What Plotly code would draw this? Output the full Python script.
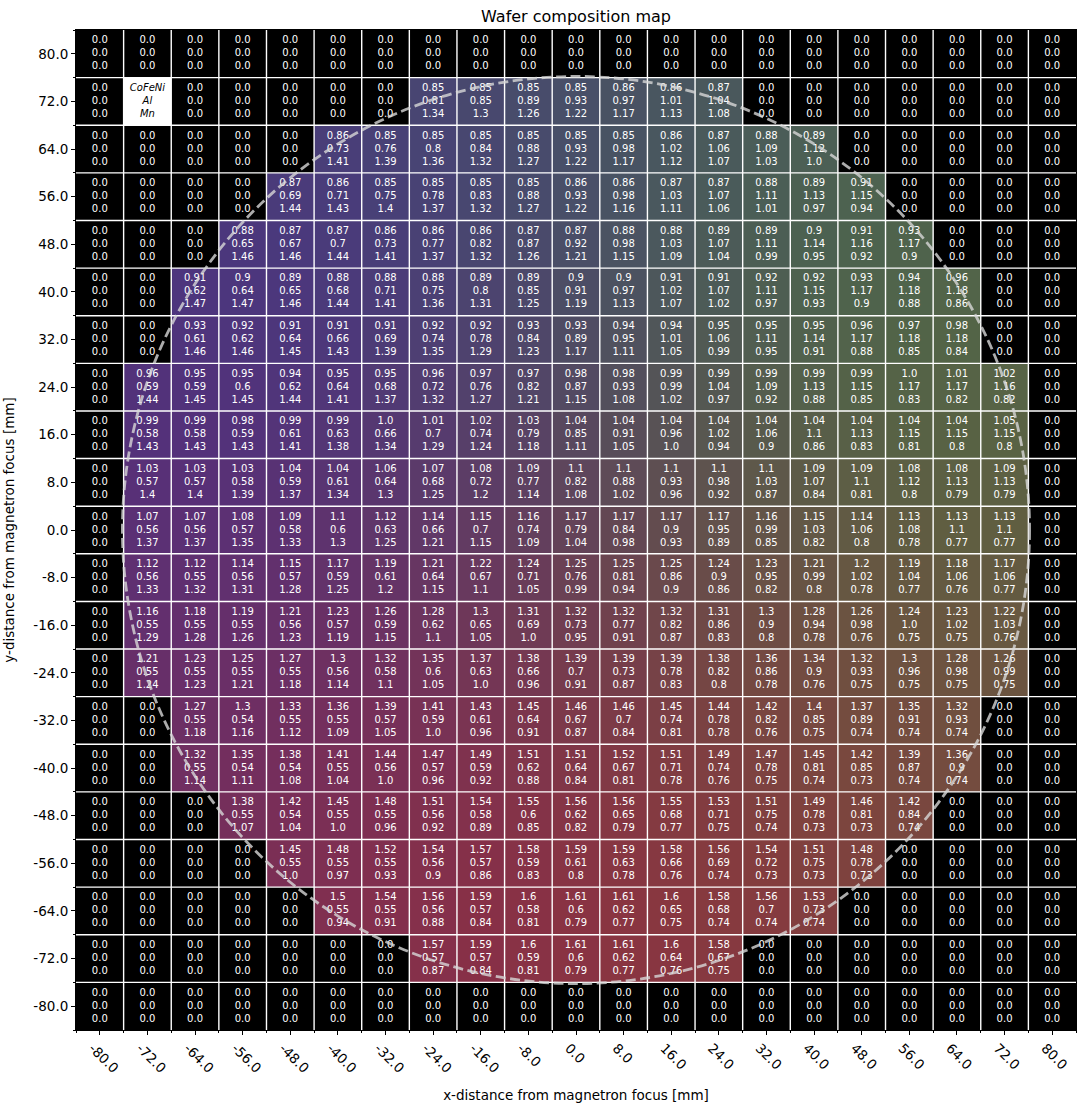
import plotly.graph_objects as go

# ---------------- data ----------------
X_MM = [-80.0, -72.0, -64.0, -56.0, -48.0, -40.0, -32.0, -24.0, -16.0, -8.0, 0.0,
        8.0, 16.0, 24.0, 32.0, 40.0, 48.0, 56.0, 64.0, 72.0, 80.0]
Y_MM = [80.0, 72.0, 64.0, 56.0, 48.0, 40.0, 32.0, 24.0, 16.0, 8.0, 0.0,
        -8.0, -16.0, -24.0, -32.0, -40.0, -48.0, -56.0, -64.0, -72.0, -80.0]

ELEMENTS = ["CoFeNi", "Al", "Mn"]
LEGEND_CELL = (-72.0, 72.0)
WAFER_RADIUS = 76.2

# rows ordered from y = 80 (top) to y = -80 (bottom), columns x = -80 ... 80
COFENI = [
    [0, 0, 0, 0, 0, 0, 0, 0, 0, 0, 0, 0, 0, 0, 0, 0, 0, 0, 0, 0, 0],
    [0, 0, 0, 0, 0, 0, 0, .85, .85, .85, .85, .86, .86, .87, 0, 0, 0, 0, 0, 0, 0],
    [0, 0, 0, 0, 0, .86, .85, .85, .85, .85, .85, .85, .86, .87, .88, .89, 0, 0, 0, 0, 0],
    [0, 0, 0, 0, .87, .86, .85, .85, .85, .85, .86, .86, .87, .87, .88, .89, .91, 0, 0, 0, 0],
    [0, 0, 0, .88, .87, .87, .86, .86, .86, .87, .87, .88, .88, .89, .89, .9, .91, .93, 0, 0, 0],
    [0, 0, .91, .9, .89, .88, .88, .88, .89, .89, .9, .9, .91, .91, .92, .92, .93, .94, .96, 0, 0],
    [0, 0, .93, .92, .91, .91, .91, .92, .92, .93, .93, .94, .94, .95, .95, .95, .96, .97, .98, 0, 0],
    [0, .96, .95, .95, .94, .95, .95, .96, .97, .97, .98, .98, .99, .99, .99, .99, .99, 1.0, 1.01, 1.02, 0],
    [0, .99, .99, .98, .99, .99, 1.0, 1.01, 1.02, 1.03, 1.04, 1.04, 1.04, 1.04, 1.04, 1.04, 1.04, 1.04, 1.04, 1.05, 0],
    [0, 1.03, 1.03, 1.03, 1.04, 1.04, 1.06, 1.07, 1.08, 1.09, 1.1, 1.1, 1.1, 1.1, 1.1, 1.09, 1.09, 1.08, 1.08, 1.09, 0],
    [0, 1.07, 1.07, 1.08, 1.09, 1.1, 1.12, 1.14, 1.15, 1.16, 1.17, 1.17, 1.17, 1.17, 1.16, 1.15, 1.14, 1.13, 1.13, 1.13, 0],
    [0, 1.12, 1.12, 1.14, 1.15, 1.17, 1.19, 1.21, 1.22, 1.24, 1.25, 1.25, 1.25, 1.24, 1.23, 1.21, 1.2, 1.19, 1.18, 1.17, 0],
    [0, 1.16, 1.18, 1.19, 1.21, 1.23, 1.26, 1.28, 1.3, 1.31, 1.32, 1.32, 1.32, 1.31, 1.3, 1.28, 1.26, 1.24, 1.23, 1.22, 0],
    [0, 1.21, 1.23, 1.25, 1.27, 1.3, 1.32, 1.35, 1.37, 1.38, 1.39, 1.39, 1.39, 1.38, 1.36, 1.34, 1.32, 1.3, 1.28, 1.26, 0],
    [0, 0, 1.27, 1.3, 1.33, 1.36, 1.39, 1.41, 1.43, 1.45, 1.46, 1.46, 1.45, 1.44, 1.42, 1.4, 1.37, 1.35, 1.32, 0, 0],
    [0, 0, 1.32, 1.35, 1.38, 1.41, 1.44, 1.47, 1.49, 1.51, 1.51, 1.52, 1.51, 1.49, 1.47, 1.45, 1.42, 1.39, 1.36, 0, 0],
    [0, 0, 0, 1.38, 1.42, 1.45, 1.48, 1.51, 1.54, 1.55, 1.56, 1.56, 1.55, 1.53, 1.51, 1.49, 1.46, 1.42, 0, 0, 0],
    [0, 0, 0, 0, 1.45, 1.48, 1.52, 1.54, 1.57, 1.58, 1.59, 1.59, 1.58, 1.56, 1.54, 1.51, 1.48, 0, 0, 0, 0],
    [0, 0, 0, 0, 0, 1.5, 1.54, 1.56, 1.59, 1.6, 1.61, 1.61, 1.6, 1.58, 1.56, 1.53, 0, 0, 0, 0, 0],
    [0, 0, 0, 0, 0, 0, 0, 1.57, 1.59, 1.6, 1.61, 1.61, 1.6, 1.58, 0, 0, 0, 0, 0, 0, 0],
    [0, 0, 0, 0, 0, 0, 0, 0, 0, 0, 0, 0, 0, 0, 0, 0, 0, 0, 0, 0, 0],
]

AL = [
    [0, 0, 0, 0, 0, 0, 0, 0, 0, 0, 0, 0, 0, 0, 0, 0, 0, 0, 0, 0, 0],
    [0, 0, 0, 0, 0, 0, 0, .81, .85, .89, .93, .97, 1.01, 1.04, 0, 0, 0, 0, 0, 0, 0],
    [0, 0, 0, 0, 0, .73, .76, .8, .84, .88, .93, .98, 1.02, 1.06, 1.09, 1.12, 0, 0, 0, 0, 0],
    [0, 0, 0, 0, .69, .71, .75, .78, .83, .88, .93, .98, 1.03, 1.07, 1.11, 1.13, 1.15, 0, 0, 0, 0],
    [0, 0, 0, .65, .67, .7, .73, .77, .82, .87, .92, .98, 1.03, 1.07, 1.11, 1.14, 1.16, 1.17, 0, 0, 0],
    [0, 0, .62, .64, .65, .68, .71, .75, .8, .85, .91, .97, 1.02, 1.07, 1.11, 1.15, 1.17, 1.18, 1.18, 0, 0],
    [0, 0, .61, .62, .64, .66, .69, .74, .78, .84, .89, .95, 1.01, 1.06, 1.11, 1.14, 1.17, 1.18, 1.18, 0, 0],
    [0, .59, .59, .6, .62, .64, .68, .72, .76, .82, .87, .93, .99, 1.04, 1.09, 1.13, 1.15, 1.17, 1.17, 1.16, 0],
    [0, .58, .58, .59, .61, .63, .66, .7, .74, .79, .85, .91, .96, 1.02, 1.06, 1.1, 1.13, 1.15, 1.15, 1.15, 0],
    [0, .57, .57, .58, .59, .61, .64, .68, .72, .77, .82, .88, .93, .98, 1.03, 1.07, 1.1, 1.12, 1.13, 1.13, 0],
    [0, .56, .56, .57, .58, .6, .63, .66, .7, .74, .79, .84, .9, .95, .99, 1.03, 1.06, 1.08, 1.1, 1.1, 0],
    [0, .56, .55, .56, .57, .59, .61, .64, .67, .71, .76, .81, .86, .9, .95, .99, 1.02, 1.04, 1.06, 1.06, 0],
    [0, .55, .55, .55, .56, .57, .59, .62, .65, .69, .73, .77, .82, .86, .9, .94, .98, 1.0, 1.02, 1.03, 0],
    [0, .55, .55, .55, .55, .56, .58, .6, .63, .66, .7, .73, .78, .82, .86, .9, .93, .96, .98, .99, 0],
    [0, 0, .55, .54, .55, .55, .57, .59, .61, .64, .67, .7, .74, .78, .82, .85, .89, .91, .93, 0, 0],
    [0, 0, .55, .54, .54, .55, .56, .57, .59, .62, .64, .67, .71, .74, .78, .81, .85, .87, .9, 0, 0],
    [0, 0, 0, .55, .54, .55, .55, .56, .58, .6, .62, .65, .68, .71, .75, .78, .81, .84, 0, 0, 0],
    [0, 0, 0, 0, .55, .55, .55, .56, .57, .59, .61, .63, .66, .69, .72, .75, .78, 0, 0, 0, 0],
    [0, 0, 0, 0, 0, .55, .55, .56, .57, .58, .6, .62, .65, .68, .7, .73, 0, 0, 0, 0, 0],
    [0, 0, 0, 0, 0, 0, 0, .57, .57, .59, .6, .62, .64, .67, 0, 0, 0, 0, 0, 0, 0],
    [0, 0, 0, 0, 0, 0, 0, 0, 0, 0, 0, 0, 0, 0, 0, 0, 0, 0, 0, 0, 0],
]

MN = [
    [0, 0, 0, 0, 0, 0, 0, 0, 0, 0, 0, 0, 0, 0, 0, 0, 0, 0, 0, 0, 0],
    [0, 0, 0, 0, 0, 0, 0, 1.34, 1.3, 1.26, 1.22, 1.17, 1.13, 1.08, 0, 0, 0, 0, 0, 0, 0],
    [0, 0, 0, 0, 0, 1.41, 1.39, 1.36, 1.32, 1.27, 1.22, 1.17, 1.12, 1.07, 1.03, 1.0, 0, 0, 0, 0, 0],
    [0, 0, 0, 0, 1.44, 1.43, 1.4, 1.37, 1.32, 1.27, 1.22, 1.16, 1.11, 1.06, 1.01, .97, .94, 0, 0, 0, 0],
    [0, 0, 0, 1.46, 1.46, 1.44, 1.41, 1.37, 1.32, 1.26, 1.21, 1.15, 1.09, 1.04, .99, .95, .92, .9, 0, 0, 0],
    [0, 0, 1.47, 1.47, 1.46, 1.44, 1.41, 1.36, 1.31, 1.25, 1.19, 1.13, 1.07, 1.02, .97, .93, .9, .88, .86, 0, 0],
    [0, 0, 1.46, 1.46, 1.45, 1.43, 1.39, 1.35, 1.29, 1.23, 1.17, 1.11, 1.05, .99, .95, .91, .88, .85, .84, 0, 0],
    [0, 1.44, 1.45, 1.45, 1.44, 1.41, 1.37, 1.32, 1.27, 1.21, 1.15, 1.08, 1.02, .97, .92, .88, .85, .83, .82, .82, 0],
    [0, 1.43, 1.43, 1.43, 1.41, 1.38, 1.34, 1.29, 1.24, 1.18, 1.11, 1.05, 1.0, .94, .9, .86, .83, .81, .8, .8, 0],
    [0, 1.4, 1.4, 1.39, 1.37, 1.34, 1.3, 1.25, 1.2, 1.14, 1.08, 1.02, .96, .92, .87, .84, .81, .8, .79, .79, 0],
    [0, 1.37, 1.37, 1.35, 1.33, 1.3, 1.25, 1.21, 1.15, 1.09, 1.04, .98, .93, .89, .85, .82, .8, .78, .77, .77, 0],
    [0, 1.33, 1.32, 1.31, 1.28, 1.25, 1.2, 1.15, 1.1, 1.05, .99, .94, .9, .86, .82, .8, .78, .77, .76, .77, 0],
    [0, 1.29, 1.28, 1.26, 1.23, 1.19, 1.15, 1.1, 1.05, 1.0, .95, .91, .87, .83, .8, .78, .76, .75, .75, .76, 0],
    [0, 1.24, 1.23, 1.21, 1.18, 1.14, 1.1, 1.05, 1.0, .96, .91, .87, .83, .8, .78, .76, .75, .75, .75, .75, 0],
    [0, 0, 1.18, 1.16, 1.12, 1.09, 1.05, 1.0, .96, .91, .87, .84, .81, .78, .76, .75, .74, .74, .74, 0, 0],
    [0, 0, 1.14, 1.11, 1.08, 1.04, 1.0, .96, .92, .88, .84, .81, .78, .76, .75, .74, .73, .74, .74, 0, 0],
    [0, 0, 0, 1.07, 1.04, 1.0, .96, .92, .89, .85, .82, .79, .77, .75, .74, .73, .73, .74, 0, 0, 0],
    [0, 0, 0, 0, 1.0, .97, .93, .9, .86, .83, .8, .78, .76, .74, .73, .73, .73, 0, 0, 0, 0],
    [0, 0, 0, 0, 0, .94, .91, .88, .84, .81, .79, .77, .75, .74, .74, .74, 0, 0, 0, 0, 0],
    [0, 0, 0, 0, 0, 0, 0, .87, .84, .81, .79, .77, .76, .75, 0, 0, 0, 0, 0, 0, 0],
    [0, 0, 0, 0, 0, 0, 0, 0, 0, 0, 0, 0, 0, 0, 0, 0, 0, 0, 0, 0, 0],
]

for grid in (COFENI, AL, MN):
    assert len(grid) == len(Y_MM)
    for row in grid:
        assert len(row) == len(X_MM), len(row)

# ---------------- build RGB image (R=CoFeNi, G=Al, B=Mn) ----------------
def channel(v):
    return max(0, min(255, int(round(float(v) / 3.0 * 255))))

rgb_rows = []
for yi, yv in enumerate(Y_MM):
    row = []
    for xi, xv in enumerate(X_MM):
        if (xv, yv) == LEGEND_CELL:
            row.append([255, 255, 255])
        else:
            row.append([channel(COFENI[yi][xi]), channel(AL[yi][xi]), channel(MN[yi][xi])])
    rgb_rows.append(row)

# image rows from bottom (y=-80) upward
img = rgb_rows[::-1]
pitch = X_MM[1] - X_MM[0]

def fmt(v):
    return str(round(float(v), 2))

tx, ty, tt = [], [], []
for yi, yv in enumerate(Y_MM):
    for xi, xv in enumerate(X_MM):
        if (xv, yv) == LEGEND_CELL:
            continue
        tx.append(xv)
        ty.append(yv)
        tt.append("<br>".join(fmt(g[yi][xi]) for g in (COFENI, AL, MN)))

fig = go.Figure()
fig.add_trace(go.Image(z=img, x0=X_MM[0], dx=pitch, y0=Y_MM[-1], dy=pitch,
                       hoverinfo="skip"))
fig.add_trace(go.Scatter(x=tx, y=ty, mode="text", text=tt,
                         textfont=dict(color="white", size=10, family="DejaVu Sans"),
                         hoverinfo="skip", showlegend=False))
fig.add_trace(go.Scatter(x=[LEGEND_CELL[0]], y=[LEGEND_CELL[1]], mode="text",
                         text=["<br>".join("<i>%s</i>" % e for e in ELEMENTS)],
                         textfont=dict(color="black", size=10, family="DejaVu Sans"),
                         hoverinfo="skip", showlegend=False))

half = pitch / 2
x_edges = [x - half for x in X_MM] + [X_MM[-1] + half]
y_edges = sorted([y - half for y in Y_MM] + [Y_MM[0] + half])
lo, hi = x_edges[0], x_edges[-1]
ylo, yhi = y_edges[0], y_edges[-1]

shapes = []
for xe in x_edges[1:-1]:
    shapes.append(dict(type="line", xref="x", yref="y", x0=xe, x1=xe, y0=ylo, y1=yhi,
                       line=dict(color="white", width=1.4), layer="above"))
for ye in y_edges[1:-1]:
    shapes.append(dict(type="line", xref="x", yref="y", x0=lo, x1=hi, y0=ye, y1=ye,
                       line=dict(color="white", width=1.4), layer="above"))
shapes.append(dict(type="circle", xref="x", yref="y",
                   x0=-WAFER_RADIUS, x1=WAFER_RADIUS, y0=-WAFER_RADIUS, y1=WAFER_RADIUS,
                   line=dict(color="rgba(215,215,215,0.8)", width=2.8, dash="10px,4.5px"),
                   layer="above"))

axis_common = dict(
    showgrid=False, zeroline=False, showline=True, linecolor="black", linewidth=1,
    mirror=True, ticks="outside", ticklen=4, tickcolor="black", tickwidth=1,
    tickfont=dict(size=13.5, color="black", family="DejaVu Sans"),
    automargin=False,
)

fig.update_layout(
    width=1086, height=1105,
    margin=dict(l=76, r=10, t=30, b=75, autoexpand=False),
    paper_bgcolor="white", plot_bgcolor="black",
    font=dict(family="DejaVu Sans", color="black"),
    title=dict(text="Wafer composition map", x=0.5, xref="paper", xanchor="center",
               y=1 - 16 / 1105, yref="container", yanchor="middle",
               font=dict(size=16, color="black")),
    shapes=shapes,
    showlegend=False,
)
fig.update_xaxes(range=[lo, hi], tickvals=X_MM, ticktext=["%.1f" % v for v in X_MM],
                 tickangle=45, ticklabelshift=-7,
                 minor=dict(tickvals=x_edges, ticks="outside", ticklen=2, tickcolor="black"),
                 title=dict(text="x-distance from magnetron focus [mm]",
                            font=dict(size=13.5, color="black")),
                 **axis_common)
fig.update_yaxes(range=[ylo, yhi], autorange=False, tickvals=Y_MM,
                 ticktext=["%.1f" % v for v in Y_MM],
                 minor=dict(tickvals=y_edges, ticks="outside", ticklen=2, tickcolor="black"),
                 title=dict(text="y-distance from magnetron focus [mm]",
                            font=dict(size=13.5, color="black")),
                 **axis_common)

fig.write_html("out.html")
